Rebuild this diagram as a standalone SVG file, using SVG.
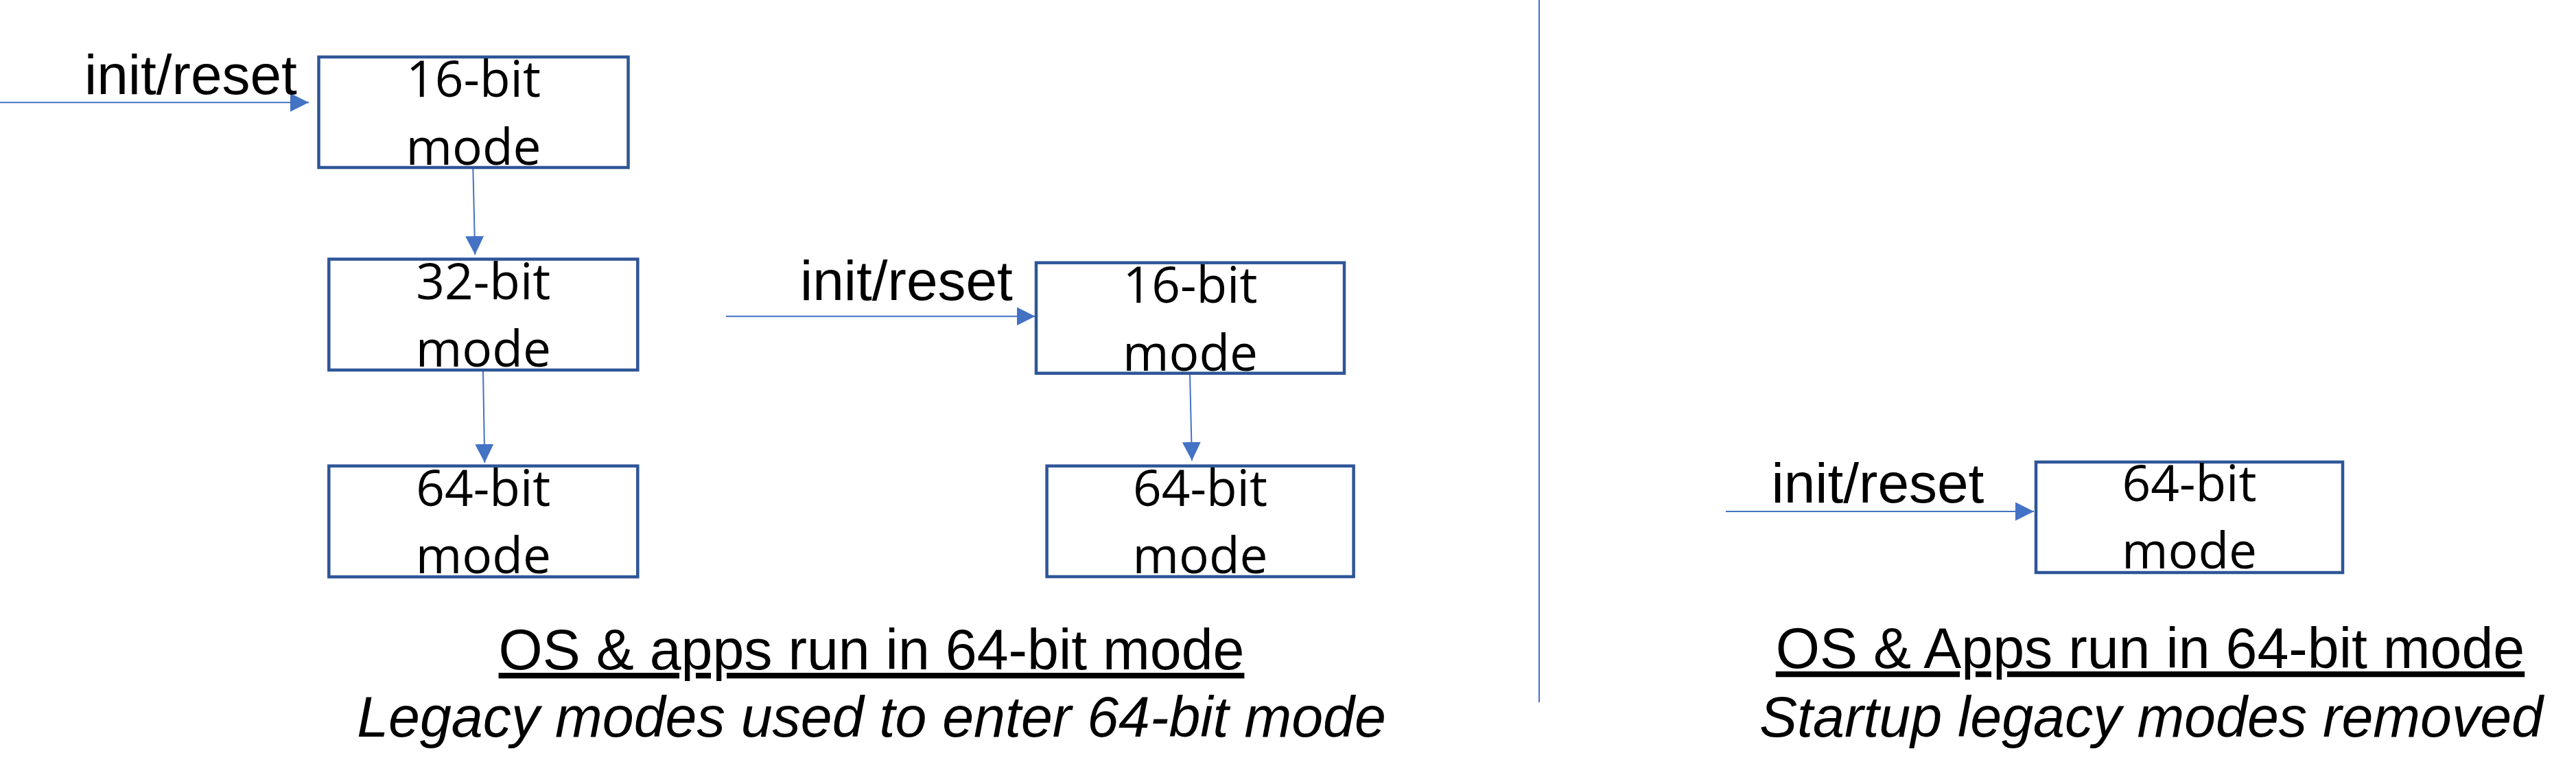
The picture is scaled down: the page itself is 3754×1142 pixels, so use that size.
<svg xmlns="http://www.w3.org/2000/svg" width="3754" height="1142" viewBox="0 0 3754 1142">
<defs>
<marker id="ah" markerUnits="userSpaceOnUse" markerWidth="27" markerHeight="27" refX="27" refY="13.5" orient="auto"><path d="M0,0 L27,13.5 L0,27 Z" fill="#4472C4"/></marker>
<style>
.box{fill:#fff;stroke:#2F5597;stroke-width:4.5}
.bt{font-family:"Open Sans","Noto Sans",sans-serif;font-size:73px;fill:#000;text-anchor:middle}
.conn{stroke:#4472C4;stroke-width:2;fill:none;marker-end:url(#ah)}
.div{stroke:#4472C4;stroke-width:2;fill:none}
.lbl{font-family:"Liberation Sans",Arial,sans-serif;font-size:82px;fill:#000}
.cap{font-family:"Liberation Sans",Arial,sans-serif;font-size:82.5px;fill:#000;text-anchor:middle}
.u{text-decoration:underline}
.it{font-style:italic}
</style>
</defs>
<rect width="3754" height="1142" fill="#fff"/>
<g id="connectors">
<path class="conn" d="M0,149.3 L450,149.3"/>
<path class="conn" d="M689.3,244 L692.3,371"/>
<path class="conn" d="M704,540 L706.3,674"/>
<path class="conn" d="M1058,460.7 L1508.5,460.7"/>
<path class="conn" d="M1734,545 L1737,671"/>
<path class="conn" d="M2515,745 L2964,745"/>
<path class="div" d="M2243,0 L2243,1023"/>
<text class="lbl" x="123" y="137">init/reset</text>
<text class="lbl" x="1166" y="437">init/reset</text>
<text class="lbl" x="2581.5" y="731.7">init/reset</text>
</g>
<g id="n16a">
<rect class="box" x="464.5" y="83" width="451" height="161"/>
<text class="bt" x="690" y="141">16-bit</text>
<text class="bt" x="690" y="240">mode</text>
</g>
<g id="n32">
<rect class="box" x="479.3" y="377.5" width="450" height="161.5"/>
<text class="bt" x="704.3" y="436">32-bit</text>
<text class="bt" x="704.3" y="534">mode</text>
</g>
<g id="n64a">
<rect class="box" x="479.3" y="678.7" width="450" height="161.6"/>
<text class="bt" x="704.3" y="737">64-bit</text>
<text class="bt" x="704.3" y="835">mode</text>
</g>
<g id="n16b">
<rect class="box" x="1510" y="382.7" width="449" height="161"/>
<text class="bt" x="1734.5" y="441">16-bit</text>
<text class="bt" x="1734.5" y="540">mode</text>
</g>
<g id="n64b">
<rect class="box" x="1525.6" y="678.7" width="447" height="161.3"/>
<text class="bt" x="1749" y="737">64-bit</text>
<text class="bt" x="1749" y="835">mode</text>
</g>
<g id="n64c">
<rect class="box" x="2967" y="673" width="447" height="161"/>
<text class="bt" x="3190.5" y="730">64-bit</text>
<text class="bt" x="3190.5" y="828">mode</text>
</g>
<g id="captions">
<text class="cap u" x="1270" y="975">OS &amp; apps run in 64-bit mode</text>
<text class="cap it" x="1270" y="1073">Legacy modes used to enter 64-bit mode</text>
<text class="cap u" x="3133.5" y="973">OS &amp; Apps run in 64-bit mode</text>
<text class="cap it" x="3135" y="1073">Startup legacy modes removed</text>
</g>
</svg>
